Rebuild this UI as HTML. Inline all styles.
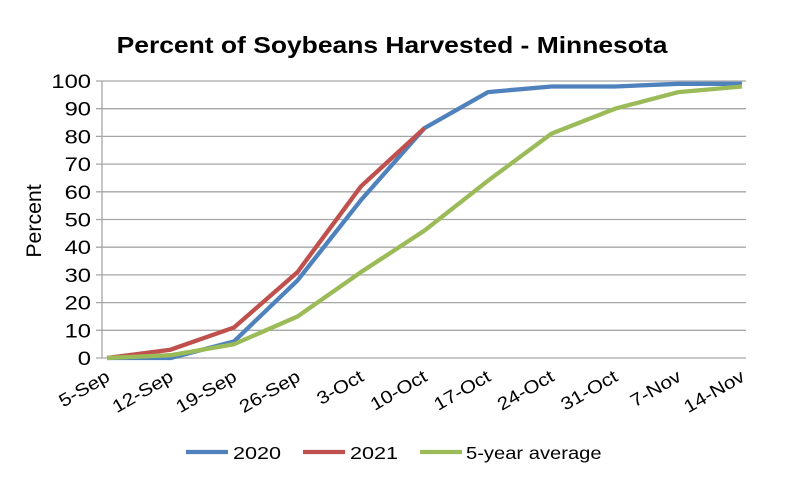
<!DOCTYPE html>
<html><head><meta charset="utf-8"><style>body{margin:0;background:#fff}svg{display:block;font-family:"Liberation Sans",Arial,sans-serif}</style></head><body>
<svg width="797" height="495" viewBox="0 0 797 495">
<text transform="translate(392,53) scale(1.15,1)" text-anchor="middle" font-size="23" font-weight="bold">Percent of Soybeans Harvested - Minnesota</text>
<g stroke="#a6a6a6" stroke-width="1.3">
<line x1="96" y1="81" x2="746" y2="81"/><line x1="96" y1="108.7" x2="746" y2="108.7"/><line x1="96" y1="136.4" x2="746" y2="136.4"/><line x1="96" y1="164.1" x2="746" y2="164.1"/><line x1="96" y1="191.8" x2="746" y2="191.8"/><line x1="96" y1="219.5" x2="746" y2="219.5"/><line x1="96" y1="247.2" x2="746" y2="247.2"/><line x1="96" y1="274.9" x2="746" y2="274.9"/><line x1="96" y1="302.6" x2="746" y2="302.6"/><line x1="96" y1="330.3" x2="746" y2="330.3"/><line x1="96" y1="358" x2="746" y2="358"/>
<line x1="102" y1="81" x2="102" y2="358"/>
</g>
<g font-size="19" text-anchor="end">
<text transform="translate(91,88) scale(1.25,1)">100</text><text transform="translate(91,115.7) scale(1.25,1)">90</text><text transform="translate(91,143.4) scale(1.25,1)">80</text><text transform="translate(91,171.1) scale(1.25,1)">70</text><text transform="translate(91,198.8) scale(1.25,1)">60</text><text transform="translate(91,226.5) scale(1.25,1)">50</text><text transform="translate(91,254.2) scale(1.25,1)">40</text><text transform="translate(91,281.9) scale(1.25,1)">30</text><text transform="translate(91,309.6) scale(1.25,1)">20</text><text transform="translate(91,337.3) scale(1.25,1)">10</text><text transform="translate(91,365) scale(1.25,1)">0</text>
</g>
<text transform="translate(41,221) rotate(-90) scale(1.12,1.1)" text-anchor="middle" font-size="19">Percent</text>
<g font-size="18" text-anchor="end">
<text transform="translate(111,380) rotate(-30) scale(1.15,1)">5-Sep</text>
<text transform="translate(174.5,380) rotate(-30) scale(1.15,1)">12-Sep</text>
<text transform="translate(238,380) rotate(-30) scale(1.15,1)">19-Sep</text>
<text transform="translate(301.5,380) rotate(-30) scale(1.15,1)">26-Sep</text>
<text transform="translate(365,380) rotate(-30) scale(1.15,1)">3-Oct</text>
<text transform="translate(428.5,380) rotate(-30) scale(1.15,1)">10-Oct</text>
<text transform="translate(492,380) rotate(-30) scale(1.15,1)">17-Oct</text>
<text transform="translate(555.5,380) rotate(-30) scale(1.15,1)">24-Oct</text>
<text transform="translate(619,380) rotate(-30) scale(1.15,1)">31-Oct</text>
<text transform="translate(682.5,380) rotate(-30) scale(1.15,1)">7-Nov</text>
<text transform="translate(746,380) rotate(-30) scale(1.15,1)">14-Nov</text>
</g>
<g fill="none" stroke-width="4.3" stroke-linejoin="round">
<polyline stroke="#4f81bd" points="107,358 170.5,358 234,341.4 297.5,280.4 361,200.1 424.5,128.1 488,92.1 551.5,86.5 615,86.5 678.5,83.8 742,83.8"/>
<polyline stroke="#c0504d" points="107,358 170.5,349.7 234,327.5 297.5,272.1 361,186.3 424.5,128.1"/>
<polyline stroke="#9bbb59" points="107,358 170.5,355.2 234,344.2 297.5,316.5 361,272.1 424.5,230.6 488,180.7 551.5,133.6 615,108.7 678.5,92.1 742,86.5"/>
</g>
<g stroke-width="4.3">
<line x1="186" y1="452" x2="228" y2="452" stroke="#4f81bd"/>
<line x1="303" y1="452" x2="345" y2="452" stroke="#c0504d"/>
<line x1="420" y1="452" x2="462" y2="452" stroke="#9bbb59"/>
</g>
<g font-size="18">
<text transform="translate(233,459) scale(1.2,1)">2020</text><text transform="translate(350,459) scale(1.2,1)">2021</text><text transform="translate(466,459) scale(1.12,1)">5-year average</text>
</g>
</svg>
</body></html>
